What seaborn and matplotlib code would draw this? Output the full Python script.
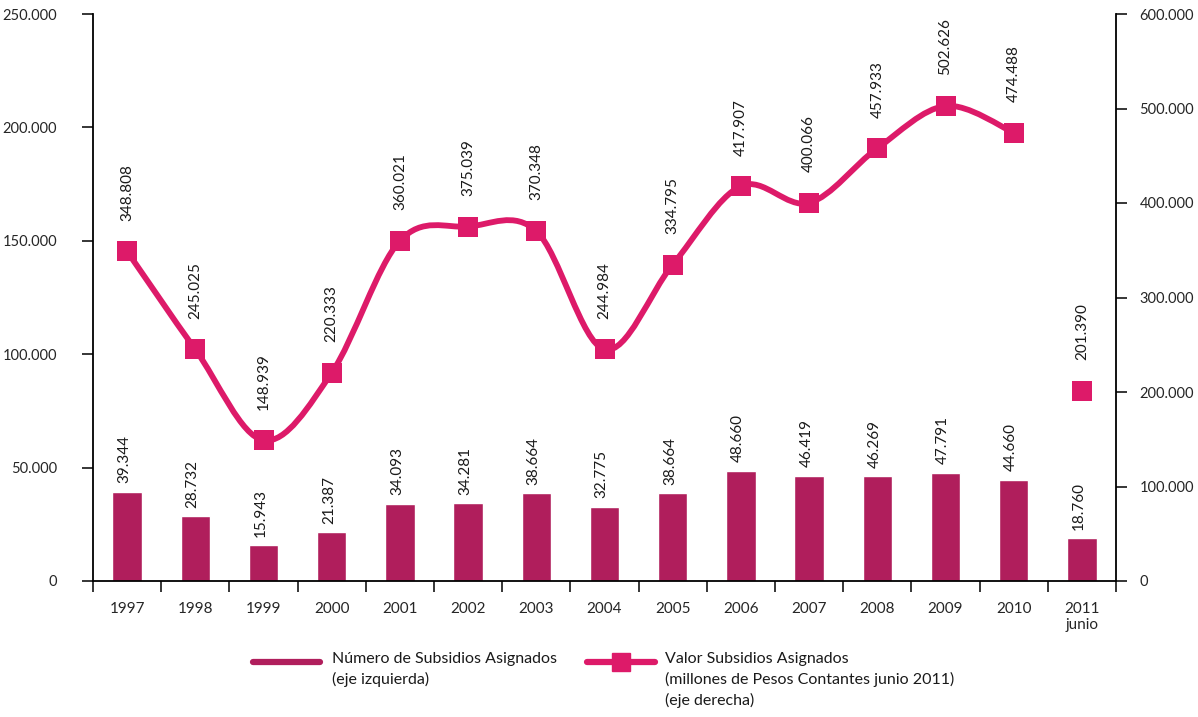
import numpy as np
import matplotlib
matplotlib.use("Agg")
import matplotlib.pyplot as plt
from matplotlib.path import Path
from matplotlib.patches import PathPatch
from matplotlib.lines import Line2D
import seaborn as sns

# ---------------------------------------------------------------
#   Subsidios asignados: número (barras) y valor (línea)
# ---------------------------------------------------------------

years = ["1997", "1998", "1999", "2000", "2001", "2002", "2003", "2004",
         "2005", "2006", "2007", "2008", "2009", "2010", "2011\njunio"]
numero = [39344, 28732, 15943, 21387, 34093, 34281, 38664, 32775,
          38664, 48660, 46419, 46269, 47791, 44660, 18760]
valor = [348808, 245025, 148939, 220333, 360021, 375039, 370348, 244984,
         334795, 417907, 400066, 457933, 502626, 474488, 201390]
left_ticks = [0, 50000, 100000, 150000, 200000, 250000]
right_ticks = [0, 100000, 200000, 300000, 400000, 500000, 600000]

BAR_COLOR = "#B01E5C"
LINE_COLOR = "#DD1A69"
TEXT_COLOR = "#1a1a1a"

sns.set_style("ticks")
plt.rcParams["font.family"] = ["Lato", "DejaVu Sans"]
plt.rcParams["text.color"] = TEXT_COLOR


def fmt(v):
    return f"{int(v):,}".replace(",", ".")


W, H = 1198, 717
fig = plt.figure(figsize=(W / 100, H / 100), dpi=100)
ax = fig.add_axes([93 / W, 1 - 581 / H, (1116 - 93) / W, (581 - 14) / H])

# bars on the left axis
sns.barplot(x=years, y=numero, color=BAR_COLOR, saturation=1, width=0.43,
            ax=ax, zorder=2)
for i, v in enumerate(numero):
    ax.annotate(fmt(v), (i, v), xytext=(-2, 6), textcoords="offset points",
                rotation=90, ha="center", va="bottom", fontsize=11)

ax.set_ylim(0, 250000)
ax.set_yticks(left_ticks)
ax.set_yticklabels([fmt(t) for t in left_ticks])
ax.set_ylabel("")

# smoothed line on the right axis (1997-2010), 2011 as a single marker
ax2 = ax.twinx()
pos = np.arange(len(years))
pts = np.column_stack([pos[:-1], valor[:-1]]).astype(float)
verts = [pts[0]]
codes = [Path.MOVETO]
for i in range(len(pts) - 1):
    p0 = pts[i - 1] if i > 0 else pts[i]
    p1, p2 = pts[i], pts[i + 1]
    p3 = pts[i + 2] if i + 2 < len(pts) else pts[i + 1]
    verts += [p1 + (p2 - p0) / 6, p2 - (p3 - p1) / 6, p2]
    codes += [Path.CURVE4] * 3
ax2.add_patch(PathPatch(Path(verts, codes), fill=False, edgecolor=LINE_COLOR,
                        lw=4.2, capstyle="round", joinstyle="round", zorder=2))
sns.scatterplot(x=pos, y=valor, marker="s", s=210, color=LINE_COLOR,
                linewidth=0, ax=ax2, zorder=3, legend=False)
for i, v in enumerate(valor):
    ax2.annotate(fmt(v), (i, v), xytext=(0, 22), textcoords="offset points",
                 rotation=90, ha="center", va="bottom", fontsize=11)

ax2.set_ylim(0, 600000)
ax2.set_yticks(right_ticks)
ax2.set_yticklabels([fmt(t) for t in right_ticks])
ax2.set_ylabel("")

# x axis: ticks between categories, labels at centres
ax.set_xlim(-0.5, len(years) - 0.5)
ax.set_xticks(np.arange(-0.5, len(years), 1))
ax.set_xticklabels([])
ax.set_xticks(pos, minor=True)
ax.set_xticklabels(years, minor=True, fontsize=11, linespacing=1.2)
ax.tick_params(axis="x", which="major", direction="out", length=8, width=1.3)
ax.tick_params(axis="x", which="minor", length=0, pad=15)
ax.tick_params(axis="y", direction="out", length=8, width=1.3, pad=18,
               labelsize=10.5)
ax2.tick_params(axis="y", direction="out", length=8, width=1.3, pad=9,
                labelsize=10.5)

for a in (ax, ax2):
    a.spines["top"].set_visible(False)
    for s in a.spines.values():
        s.set_linewidth(1.3)
        s.set_color("black")
ax2.spines["left"].set_visible(False)
ax2.spines["bottom"].set_visible(False)
ax.spines["right"].set_visible(False)

# legend drawn below the chart
ly = 1 - 662 / H
fig.add_artist(Line2D([253 / W, 320 / W], [ly, ly], color=BAR_COLOR, lw=4.5))
fig.add_artist(Line2D([587 / W, 655 / W], [ly, ly], color=LINE_COLOR, lw=4.5))
fig.add_artist(Line2D([621 / W], [ly], color=LINE_COLOR, marker="s",
                      markersize=13, linestyle="none"))
fig.text(332 / W, 1 - 652 / H, "Número de Subsidios Asignados\n(eje izquierda)",
         va="top", ha="left", fontsize=11.5, linespacing=1.5)
fig.text(665 / W, 1 - 652 / H,
         "Valor Subsidios Asignados\n(millones de Pesos Contantes junio 2011)\n(eje derecha)",
         va="top", ha="left", fontsize=11.5, linespacing=1.5)

fig.savefig("out.png", dpi=100)
